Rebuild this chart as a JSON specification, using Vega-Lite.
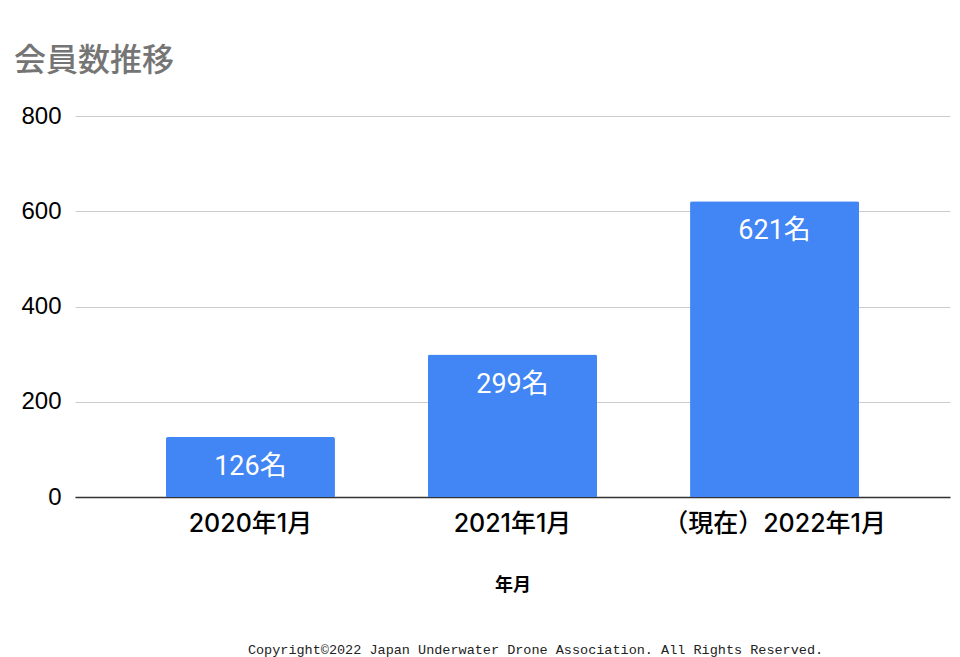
{
  "$schema": "https://vega.github.io/schema/vega-lite/v6.json",
  "padding": {"left": 14, "top": 45, "right": 10, "bottom": 0},
  "background": "white",
  "config": {"view": {"stroke": null}, "concat": {"spacing": 48}},
  "vconcat": [
    {
      "width": 875,
      "height": 381,
      "title": {
        "text": "会員数推移",
        "anchor": "start",
        "frame": "group",
        "dx": -61,
        "offset": 26,
        "font": "Noto Sans CJK JP",
        "fontSize": 32,
        "fontWeight": 500,
        "color": "#757575"
      },
      "data": {
        "values": [
          {"label": "2020年1月", "members": 126, "text": "126名"},
          {"label": "2021年1月", "members": 299, "text": "299名"},
          {"label": "（現在）2022年1月", "members": 621, "text": "621名"}
        ]
      },
      "encoding": {
        "x": {
          "field": "label",
          "type": "nominal",
          "sort": null,
          "title": "年月",
          "scale": {"paddingInner": 0.355, "paddingOuter": 0.347},
          "axis": {
            "labelAngle": 0,
            "labelLimit": 0,
            "labelFont": "Inter, Noto Sans CJK JP",
            "labelFontSize": 25,
            "labelFontWeight": 500,
            "labelColor": "#000000",
            "labelPadding": 14,
            "ticks": false,
            "domainColor": "#333333",
            "domainWidth": 1.5,
            "titleFont": "Noto Sans CJK JP",
            "titleFontSize": 18,
            "titleFontWeight": "bold",
            "titleColor": "#000000",
            "titlePadding": 40
          }
        },
        "y": {
          "field": "members",
          "type": "quantitative",
          "title": null,
          "scale": {"domain": [0, 800]},
          "axis": {
            "values": [0, 200, 400, 600, 800],
            "labelFont": "Liberation Sans",
            "labelFontSize": 24,
            "labelColor": "#000000",
            "labelPadding": 14,
            "ticks": false,
            "domain": false,
            "gridColor": "#cccccc",
            "gridWidth": 1
          }
        }
      },
      "layer": [
        {
          "mark": {
            "type": "bar",
            "color": "#4285F4",
            "cornerRadiusTopLeft": 2,
            "cornerRadiusTopRight": 2
          }
        },
        {
          "mark": {
            "type": "text",
            "baseline": "middle",
            "dy": 30,
            "color": "#ffffff",
            "font": "Roboto, Noto Sans CJK JP",
            "fontSize": 27
          },
          "encoding": {"text": {"field": "text"}}
        }
      ]
    },
    {
      "width": 875,
      "height": 16,
      "data": {
        "values": [
          {"t": "Copyright©2022  Japan Underwater Drone Association. All Rights Reserved."}
        ]
      },
      "mark": {
        "type": "text",
        "font": "Liberation Mono",
        "fontSize": 13.5,
        "color": "#222222",
        "dx": 23
      },
      "encoding": {"text": {"field": "t"}}
    }
  ]
}
